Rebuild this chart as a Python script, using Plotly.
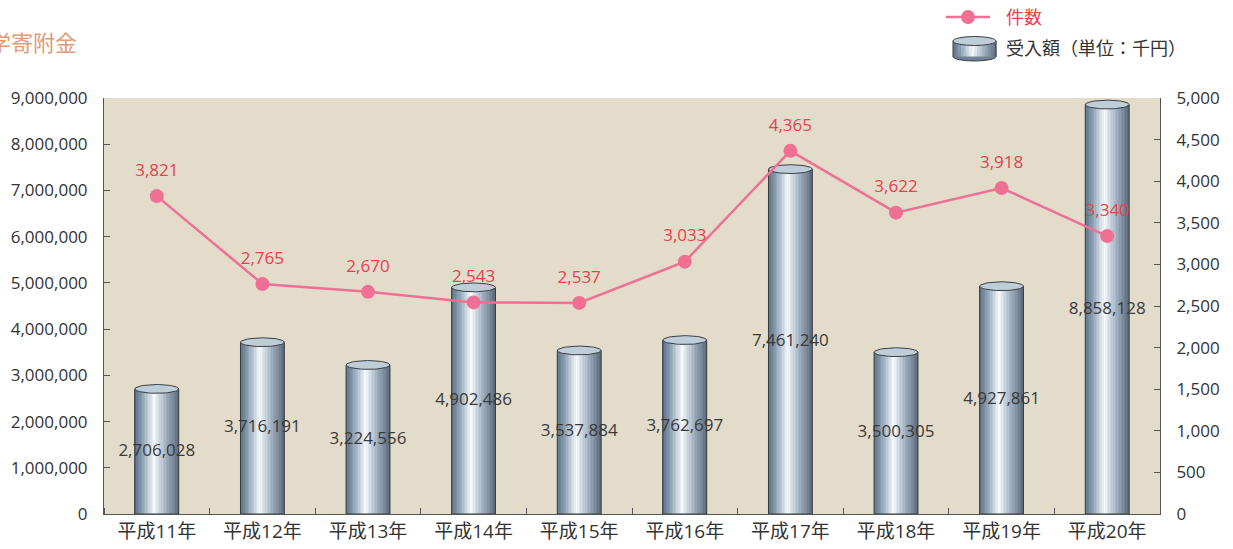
import numpy as np
import plotly.graph_objects as go

categories = ["平成11年", "平成12年", "平成13年", "平成14年", "平成15年",
              "平成16年", "平成17年", "平成18年", "平成19年", "平成20年"]
amounts = [2706028, 3716191, 3224556, 4902486, 3537884,
           3762697, 7461240, 3500305, 4927861, 8858128]
counts = [3821, 2765, 2670, 2543, 2537, 3033, 4365, 3622, 3918, 3340]

FONT = "Open Sans, Noto Sans CJK JP, sans-serif"
L, R, T, B = 104, 73, 98, 35
PW, PH = 1233 - L - R, 549 - T - B


def px(x):
    return (x - L) / PW


def py(y):
    return (549 - B - y) / PH


xpos = np.arange(len(categories))
W = 0.415
N = 28

stops = [(0.0, (96, 114, 132)), (0.12, (122, 142, 162)), (0.3, (186, 200, 214)),
         (0.45, (246, 249, 251)), (0.56, (208, 218, 228)), (0.76, (150, 166, 182)),
         (0.92, (112, 128, 144)), (1.0, (90, 104, 120))]


def grad(t):
    for (a, ca), (b, cb) in zip(stops[:-1], stops[1:]):
        if a <= t <= b:
            f = (t - a) / (b - a)
            c = [round(ca[k] + (cb[k] - ca[k]) * f) for k in range(3)]
            return f"rgb({c[0]},{c[1]},{c[2]})"
    return "rgb(90,104,120)"


fig = go.Figure()

for i in range(N):
    t = (i + 0.5) / N
    fig.add_trace(go.Bar(
        x=xpos, y=amounts, width=W / N + 0.002, offset=-W / 2 + i * W / N,
        marker=dict(color=grad(t), line=dict(width=0)),
        showlegend=False, hoverinfo="skip"))

fig.add_trace(go.Bar(
    x=xpos, y=amounts, width=W, offset=-W / 2,
    marker=dict(color="rgba(0,0,0,0)", line=dict(color="#3a3f45", width=1)),
    showlegend=False, hoverinfo="skip"))

# top ellipses
h = 95000
th = np.linspace(0, 2 * np.pi, 60)
ex, ey = [], []
for xi, v in zip(xpos, amounts):
    ex += list(xi + W / 2 * np.cos(th)) + [None]
    ey += list(v + h * np.sin(th)) + [None]
fig.add_trace(go.Scatter(
    x=ex, y=ey, mode="lines", fill="toself", fillcolor="#bfcdd8",
    line=dict(color="#3a3f45", width=1), showlegend=False, hoverinfo="skip"))

# amount labels
fig.add_trace(go.Scatter(
    x=xpos, y=[v / 2 for v in amounts], mode="text",
    text=[f"{v:,}" for v in amounts],
    textfont=dict(family=FONT, size=17, color="#3a3a3a"),
    showlegend=False, hoverinfo="skip"))

# count line
fig.add_trace(go.Scatter(
    x=xpos, y=counts, yaxis="y2", mode="lines+markers", name="件数",
    line=dict(color="#EF7093", width=2.5),
    marker=dict(color="#EF7093", size=14), showlegend=False))

# count labels
fig.add_trace(go.Scatter(
    x=xpos, y=counts, yaxis="y2", mode="markers+text",
    text=[f"{c:,}" for c in counts], textposition="top center",
    marker=dict(size=24, color="rgba(0,0,0,0)"),
    textfont=dict(family=FONT, size=17, color="#E8414E"),
    showlegend=False, hoverinfo="skip"))

# manual legend
shapes = []
shapes.append(dict(type="line", xref="paper", yref="paper", x0=px(946), x1=px(990),
                   y0=py(17), y1=py(17), line=dict(color="#EF7093", width=2.5)))
shapes.append(dict(type="circle", xref="paper", yref="paper", x0=px(961), x1=px(975),
                   y0=py(24), y1=py(10), fillcolor="#EF7093", line=dict(width=0)))
cx0, cx1 = 953, 996
ns = 16
shapes.append(dict(type="circle", xref="paper", yref="paper", x0=px(cx0), x1=px(cx1),
                   y0=py(61), y1=py(52), fillcolor="#6f8194",
                   line=dict(color="#3a3f45", width=1)))
for i in range(ns):
    xa = cx0 + (cx1 - cx0) * i / ns
    xb = cx0 + (cx1 - cx0) * (i + 1) / ns + 0.4
    shapes.append(dict(type="rect", xref="paper", yref="paper", x0=px(xa), x1=px(xb),
                       y0=py(56.5), y1=py(41), fillcolor=grad((i + 0.5) / ns),
                       line=dict(width=0)))
shapes.append(dict(type="line", xref="paper", yref="paper", x0=px(cx0), x1=px(cx0),
                   y0=py(56.5), y1=py(41), line=dict(color="#3a3f45", width=1)))
shapes.append(dict(type="line", xref="paper", yref="paper", x0=px(cx1), x1=px(cx1),
                   y0=py(56.5), y1=py(41), line=dict(color="#3a3f45", width=1)))
shapes.append(dict(type="circle", xref="paper", yref="paper", x0=px(cx0), x1=px(cx1),
                   y0=py(45.5), y1=py(36.5), fillcolor="#bfcdd8",
                   line=dict(color="#3a3f45", width=1)))

annotations = [
    dict(text="大学寄附金", xref="paper", yref="paper", x=px(79), y=py(42),
         xanchor="right", yanchor="middle", showarrow=False,
         font=dict(family=FONT, size=22, color="#E29A78")),
    dict(text="件数", xref="paper", yref="paper", x=px(1004), y=py(17),
         xanchor="left", yanchor="middle", showarrow=False,
         font=dict(family=FONT, size=18, color="#E8414E")),
    dict(text="受入額（単位：千円）", xref="paper", yref="paper", x=px(1004), y=py(48),
         xanchor="left", yanchor="middle", showarrow=False,
         font=dict(family=FONT, size=18, color="#333333")),
]

fig.update_layout(
    width=1233, height=549,
    margin=dict(l=L, r=R, t=T, b=B, autoexpand=False),
    paper_bgcolor="white", plot_bgcolor="#E3DCCA",
    barmode="overlay", showlegend=False,
    font=dict(family=FONT, size=17, color="#333333"),
    xaxis=dict(range=[-0.5, 9.5], tickvals=list(xpos), ticktext=categories,
               ticks="", showline=True, linecolor="#555555", linewidth=1,
               showgrid=False, zeroline=False,
               tickfont=dict(size=19),
               minor=dict(tickvals=[k - 0.5 for k in range(11)], ticks="inside",
                          ticklen=6, tickcolor="#555555")),
    yaxis=dict(range=[0, 9000000], dtick=1000000, tickformat=",", ticks="inside",
               ticklen=6, tickcolor="#555555", showline=True, linecolor="#555555",
               showgrid=False, zeroline=False, ticklabelstandoff=12),
    yaxis2=dict(range=[0, 5000], dtick=500, tickformat=",", ticks="inside",
                ticklen=6, tickcolor="#555555", showline=True, linecolor="#555555",
                showgrid=False, zeroline=False, overlaying="y", side="right",
                ticklabelstandoff=12),
    shapes=shapes,
    annotations=annotations,
)

fig.write_html("out.html", config={"displayModeBar": False})

# remove the browser's default page margin so the figure sits at the window's corner
with open("out.html", encoding="utf-8") as f:
    html = f.read()
html = html.replace("<head>", "<head><style>html,body{margin:0;padding:0;overflow:hidden;}</style>", 1)
with open("out.html", "w", encoding="utf-8") as f:
    f.write(html)
